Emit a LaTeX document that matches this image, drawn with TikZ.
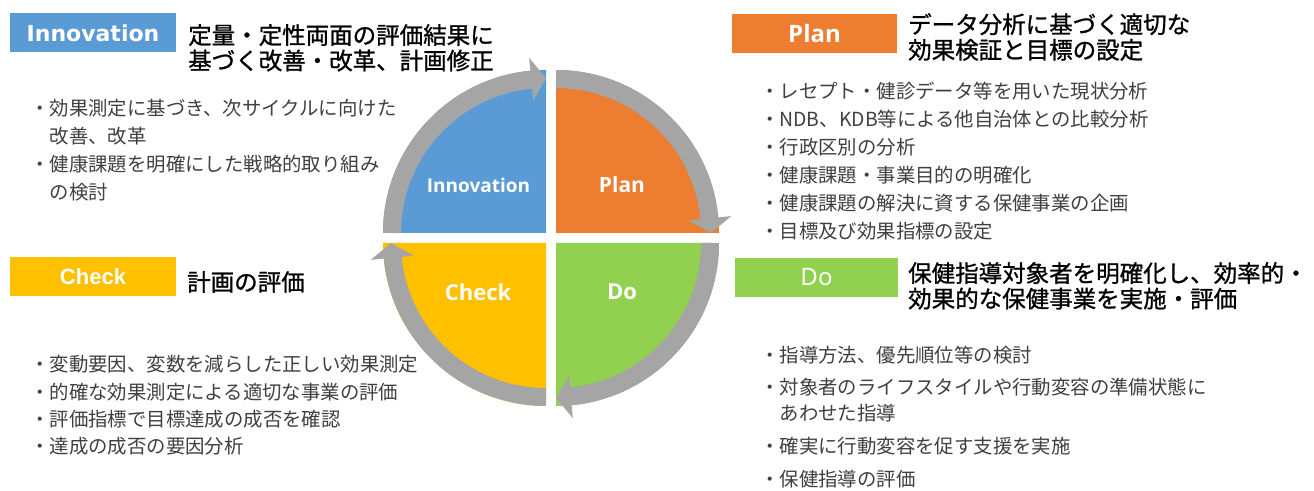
\documentclass[tikz,border=0pt]{standalone}
\usepackage{fontspec}
\newfontfamily\jp{Noto Sans CJK JP}
\newfontfamily\jphead[FakeBold=1]{Noto Sans CJK JP}
\newfontfamily\dvs{DejaVu Sans}
\newfontfamily\libs{Liberation Sans}
\newfontfamily\nsans{Noto Sans}
\newfontfamily\osans{Open Sans}
\definecolor{cInno}{HTML}{5B9BD5}
\definecolor{cPlan}{HTML}{ED7D31}
\definecolor{cDo}{HTML}{92D050}
\definecolor{cCheck}{HTML}{FFC000}
\definecolor{cRing}{HTML}{A5A5A5}
\definecolor{cBody}{HTML}{404040}
\begin{document}
\begin{tikzpicture}[x=1pt,y=1pt,
  tag/.style={minimum height=39pt, inner sep=0pt, text=white},
  head/.style={anchor=north west, inner sep=0pt, align=left, text=black,
    font=\jphead\fontsize{23.5}{25.5}\selectfont},
  body/.style={anchor=north west, inner sep=0pt, align=left, text=cBody,
    font=\jp\fontsize{19.4}{28}\selectfont},
  quad/.style={text=white, inner sep=0pt, font=\osans\bfseries\fontsize{21}{21}\selectfont},
  ring/.style={draw=cRing, line width=18pt},
  tip/.style={fill=cRing}]
\useasboundingbox (0,0) rectangle (1314,490);
\fill[white] (0,0) rectangle (1314,490);

% ---- cycle wheel: four quarter discs with clockwise arrow rims ----
\begin{scope}[shift={(546,257)}]% Innovation
  \fill[cInno] (0,0) -- (180:163pt) arc[start angle=180, end angle=90, radius=163pt] -- cycle;
  \draw[ring] (180:154pt) arc[start angle=180, end angle=95.5, radius=154pt];
  \fill[tip] (95.5:133pt) -- (90:155pt) -- (95.5:176pt) -- cycle;
\end{scope}
\begin{scope}[shift={(556,257)}]% Plan
  \fill[cPlan] (0,0) -- (90:163pt) arc[start angle=90, end angle=0, radius=163pt] -- cycle;
  \draw[ring] (90:154pt) arc[start angle=90, end angle=5.5, radius=154pt];
  \fill[tip] (5.5:133pt) -- (0:155pt) -- (5.5:176pt) -- cycle;
\end{scope}
\begin{scope}[shift={(556,247)}]% Do
  \fill[cDo] (0,0) -- (0:163pt) arc[start angle=0, end angle=-90, radius=163pt] -- cycle;
  \draw[ring] (0:154pt) arc[start angle=0, end angle=-84.5, radius=154pt];
  \fill[tip] (-84.5:133pt) -- (-90:155pt) -- (-84.5:176pt) -- cycle;
\end{scope}
\begin{scope}[shift={(546,247)}]% Check
  \fill[cCheck] (0,0) -- (270:163pt) arc[start angle=270, end angle=180, radius=163pt] -- cycle;
  \draw[ring] (270:154pt) arc[start angle=270, end angle=185.5, radius=154pt];
  \fill[tip] (185.5:133pt) -- (180:155pt) -- (185.5:176pt) -- cycle;
\end{scope}

\node[quad, font=\osans\bfseries\fontsize{19}{19}\selectfont] (qInno) at (478.5,305) {Innovation};
\node[quad] (qPlan) at (622,305) {Plan};
\node[quad, font=\osans\bfseries\fontsize{22}{22}\selectfont] (qCheck) at (478,198) {Check};
\node[quad, font=\osans\bfseries\fontsize{22}{22}\selectfont] (qDo) at (622,198) {Do};

% ---- phase tags ----
\node[tag, fill=cInno, minimum width=166pt, font=\dvs\bfseries\fontsize{22}{22}\selectfont] (tInno) at (93,457) {Innovation};
\node[tag, fill=cPlan, minimum width=165pt, font=\osans\bfseries\fontsize{24}{24}\selectfont] (tPlan) at (814.5,456.5) {Plan};
\node[tag, fill=cDo, minimum width=163pt, font=\nsans\fontsize{24}{24}\selectfont] (tDo) at (816.5,212.5) {Do};
\node[tag, fill=cCheck, minimum width=166pt, font=\libs\bfseries\fontsize{22}{22}\selectfont] (tCheck) at (93,213.5) {Check};

% ---- headings ----
\node[head] (hInno) at (188,466) {定量・定性両面の評価結果に\\基づく改善・改革、計画修正};
\node[head] (hPlan) at (908,477) {データ分析に基づく適切な\\効果検証と目標の設定};
\node[head, anchor=west] (hCheck) at (187,208) {計画の評価};
\node[head] (hDo) at (908,228) {保健指導対象者を明確化し、効率的・\\効果的な保健事業を実施・評価};

% ---- bullet lists ----
\node[body] (bInno) at (30,390.7) {・効果測定に基づき、次サイクルに向けた\\\phantom{・}改善、改革\\・健康課題を明確にした戦略的取り組み\\\phantom{・}の検討};
\node[body] (bPlan) at (760,408.7) {・レセプト・健診データ等を用いた現状分析\\・NDB、KDB等による他自治体との比較分析\\・行政区別の分析\\・健康課題・事業目的の明確化\\・健康課題の解決に資する保健事業の企画\\・目標及び効果指標の設定};
\node[body, font=\jp\fontsize{19.4}{27.3}\selectfont] (bCheck) at (30,134.7) {・変動要因、変数を減らした正しい効果測定\\・的確な効果測定による適切な事業の評価\\・評価指標で目標達成の成否を確認\\・達成の成否の要因分析};
\node[body, font=\jp\fontsize{19.4}{26}\selectfont] (bDo) at (760,143.7) {・指導方法、優先順位等の検討\\[6pt]・対象者のライフスタイルや行動変容の準備状態に\\\phantom{・}あわせた指導\\[7pt]・確実に行動変容を促す支援を実施\\[7pt]・保健指導の評価};
\end{tikzpicture}
\end{document}
